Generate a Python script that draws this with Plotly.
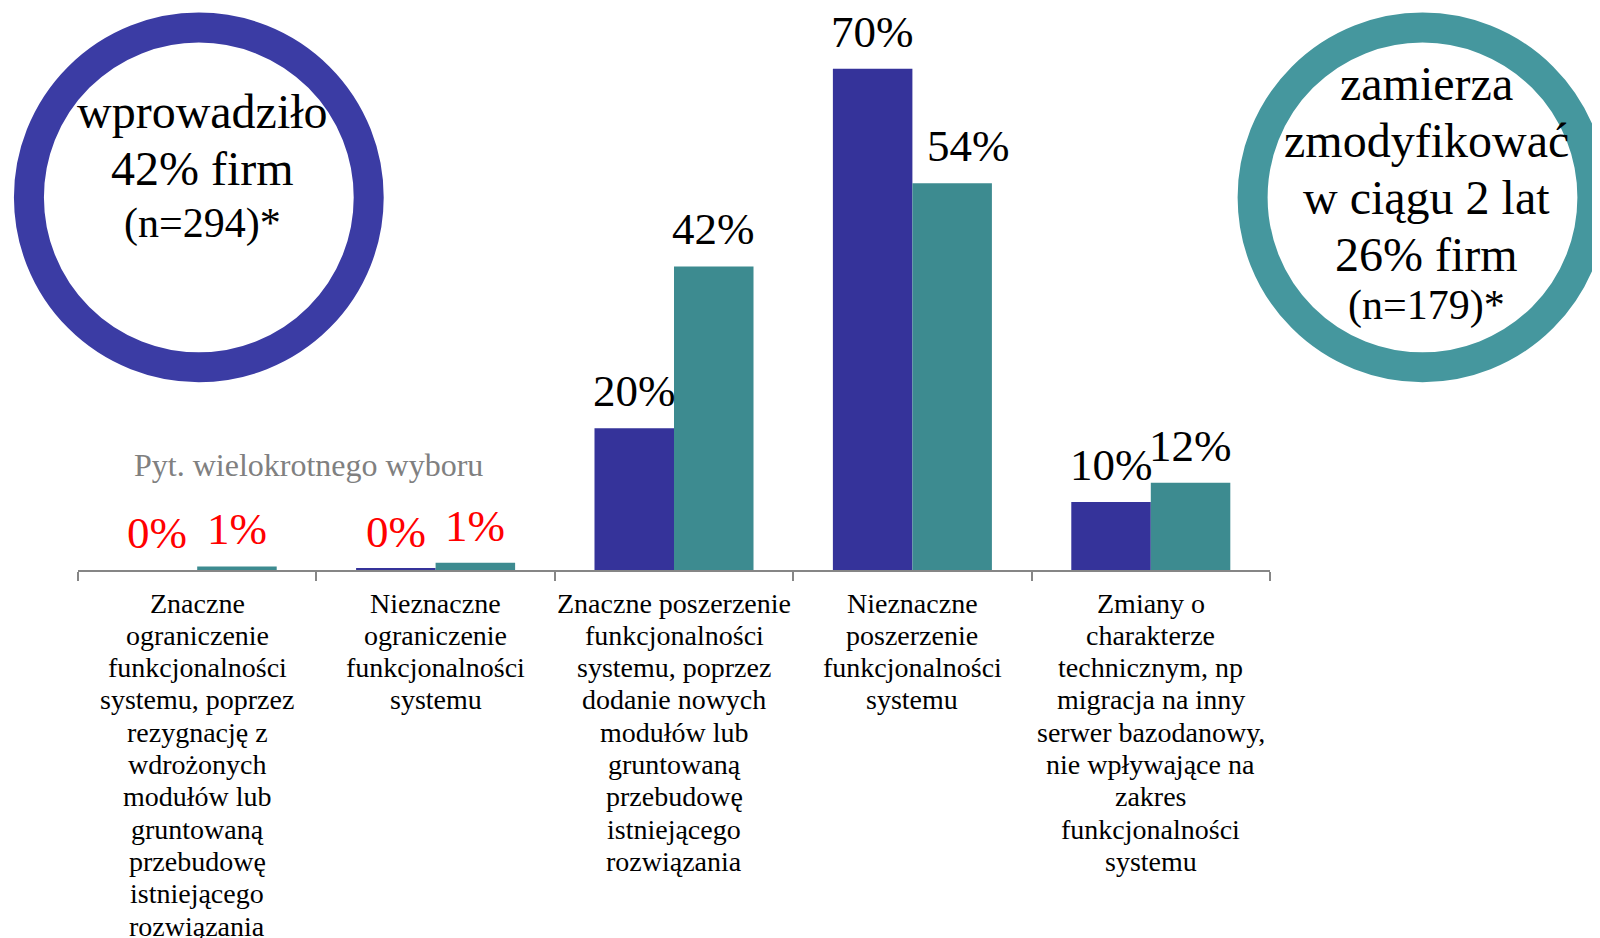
import plotly.graph_objects as go

# ---------------- data ----------------
category_lines = [
    ["Znaczne", "ograniczenie", "funkcjonalności", "systemu, poprzez", "rezygnację z",
     "wdrożonych", "modułów lub", "gruntowaną", "przebudowę", "istniejącego", "rozwiązania"],
    ["Nieznaczne", "ograniczenie", "funkcjonalności", "systemu"],
    ["Znaczne poszerzenie", "funkcjonalności", "systemu, poprzez", "dodanie nowych",
     "modułów lub", "gruntowaną", "przebudowę", "istniejącego", "rozwiązania"],
    ["Nieznaczne", "poszerzenie", "funkcjonalności", "systemu"],
    ["Zmiany o", "charakterze", "technicznym, np", "migracja na inny",
     "serwer bazodanowy,", "nie wpływające na", "zakres", "funkcjonalności", "systemu"],
]
categories = [" ".join(lines) for lines in category_lines]

wprowadzilo_values = [0.0, 0.2, 19.8, 70.0, 9.5]
zamierza_values = [0.5, 1.0, 42.4, 54.0, 12.2]
wprowadzilo_labels = ["0%", "0%", "20%", "70%", "10%"]
zamierza_labels = ["1%", "1%", "42%", "54%", "12%"]

left_circle_lines = ["wprowadziło", "42% firm", "(n=294)*"]
right_circle_lines = ["zamierza", "zmodyfikować", "w ciągu 2 lat", "26% firm", "(n=179)*"]
note_text = "Pyt. wielokrotnego wyboru"

# ---------------- style ----------------
BLUE = "#35339A"
TEAL = "#3D8B90"
RING_BLUE = "#3B3CA4"
RING_TEAL = "#45979E"
FONT = "Liberation Serif, Times New Roman, serif"

W, H = 1600, 938
OFF = 8  # page body margin
L, R, T, B = 77.6, 1270.4, 33.0, 570.4   # plot area in page pixels
YMAX = 75


def px(x):
    return (x - L) / (R - L)


def py(y):
    return (B - y) / (B - T)


fig = go.Figure()
fig.add_trace(go.Bar(x=categories, y=wprowadzilo_values, name="wprowadziło",
                     marker=dict(color=BLUE, line=dict(width=0))))
fig.add_trace(go.Bar(x=categories, y=zamierza_values, name="zamierza",
                     marker=dict(color=TEAL, line=dict(width=0))))

annotations = []
bar_off = (1 - 0.333) / 4
for i, (v, lab) in enumerate(zip(wprowadzilo_values, wprowadzilo_labels)):
    annotations.append(dict(x=i - bar_off, y=v, xref="x", yref="y", text=lab,
                            showarrow=False, yanchor="bottom", xanchor="center", yshift=10,
                            font=dict(family=FONT, size=45,
                                      color="#FF0000" if v < 5 else "black")))
for i, (v, lab) in enumerate(zip(zamierza_values, zamierza_labels)):
    annotations.append(dict(x=i + bar_off, y=v, xref="x", yref="y", text=lab,
                            showarrow=False, yanchor="bottom", xanchor="center", yshift=10,
                            xshift=16 if i == 3 else 0,
                            font=dict(family=FONT, size=45,
                                      color="#FF0000" if v < 5 else "black")))

# category labels, one line each (tight line spacing like the original)
for i, lines in enumerate(category_lines):
    for j, line in enumerate(lines):
        annotations.append(dict(x=i, y=0, xref="x", yref="y", text=line, showarrow=False,
                                xanchor="center", yanchor="middle",
                                yshift=-(33 + 32.3 * j),
                                font=dict(family=FONT, size=28, color="black")))

# note
annotations.append(dict(x=px(308), y=py(465), xref="paper", yref="paper", text=note_text,
                        showarrow=False, xanchor="center", yanchor="middle",
                        font=dict(family=FONT, size=32, color="#808080")))

# circle texts
left_y = [112, 169, 224]
for line, yy in zip(left_circle_lines, left_y):
    annotations.append(dict(x=px(202), y=py(yy), xref="paper", yref="paper", text=line,
                            showarrow=False, xanchor="center", yanchor="middle",
                            font=dict(family=FONT, size=42 if line.startswith("(") else 48,
                                      color="black")))
right_y = [84, 141, 198, 255, 306]
for line, yy in zip(right_circle_lines, right_y):
    annotations.append(dict(x=px(1427), y=py(yy), xref="paper", yref="paper", text=line,
                            showarrow=False, xanchor="center", yanchor="middle",
                            font=dict(family=FONT, size=42 if line.startswith("(") else 48,
                                      color="black")))

shapes = []
for cx, cy, col in [(198.5, 197.5, RING_BLUE), (1423, 197.5, RING_TEAL)]:
    r = 170
    shapes.append(dict(type="circle", xref="paper", yref="paper",
                       x0=px(cx - r), x1=px(cx + r), y0=py(cy + r), y1=py(cy - r),
                       line=dict(color=col, width=30), fillcolor="rgba(0,0,0,0)",
                       layer="below"))

fig.update_layout(
    width=W, height=H,
    margin=dict(l=L - OFF, r=W - (R - OFF), t=T - OFF, b=H - (B - OFF), pad=0),
    paper_bgcolor="white", plot_bgcolor="white",
    barmode="group", bargap=0.333, bargroupgap=0,
    showlegend=False,
    annotations=annotations,
    shapes=shapes,
    font=dict(family=FONT),
)
fig.update_xaxes(type="category", showticklabels=False, tickson="boundaries",
                 ticks="outside", ticklen=9, tickcolor="#868686", tickwidth=1.5,
                 showline=True, linecolor="#868686", linewidth=1.5, showgrid=False,
                 zeroline=False)
fig.update_yaxes(range=[0, YMAX], visible=False, showgrid=False, zeroline=False)

fig.write_html("out.html")
